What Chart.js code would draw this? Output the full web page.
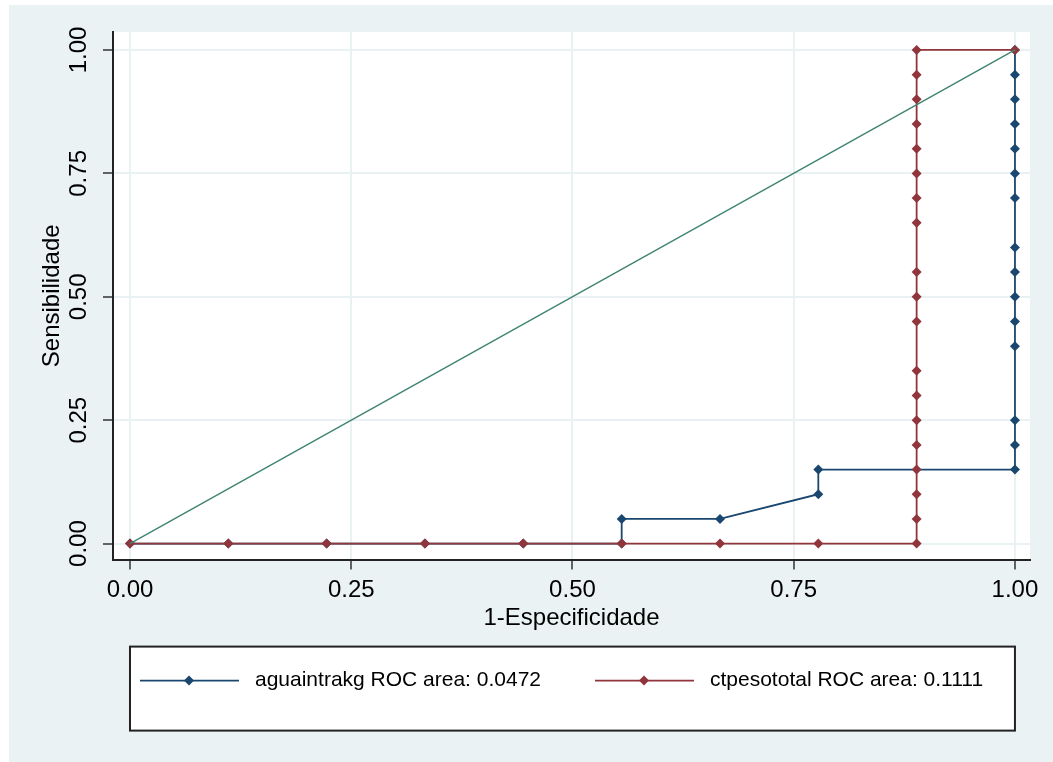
<!DOCTYPE html>
<html>
<head>
<meta charset="utf-8">
<script src="https://cdn.jsdelivr.net/npm/chart.js@4.4.1/dist/chart.umd.min.js"></script>
<style>
  body { margin: 0; background: #fff; }
  #wrap { position: relative; width: 1053px; height: 762px; }
</style>
</head>
<body>
<div id="wrap"><canvas id="rocChart" width="1053" height="762"></canvas></div>
<script>
// ROC points (x = 1-Especificidade, y = Sensibilidade)
var aguaX = [0, 0.1111, 0.2222, 0.3333, 0.4444, 0.5556, 0.5556, 0.6667, 0.7778, 0.7778,
  1, 1, 1, 1, 1, 1, 1, 1, 1, 1, 1, 1, 1, 1, 1];
var aguaY = [0, 0, 0, 0, 0, 0, 0.05, 0.05, 0.10, 0.15,
  0.15, 0.20, 0.25, 0.40, 0.45, 0.50, 0.55, 0.60, 0.70, 0.75, 0.80, 0.85, 0.90, 0.95, 1.00];

var ctpX = [0, 0.1111, 0.2222, 0.3333, 0.4444, 0.5556, 0.6667, 0.7778,
  0.8889, 0.8889, 0.8889, 0.8889, 0.8889, 0.8889, 0.8889, 0.8889, 0.8889, 0.8889,
  0.8889, 0.8889, 0.8889, 0.8889, 0.8889, 0.8889, 0.8889, 0.8889, 0.8889, 1];
var ctpY = [0, 0, 0, 0, 0, 0, 0, 0,
  0, 0.05, 0.10, 0.15, 0.20, 0.25, 0.30, 0.35, 0.45, 0.50,
  0.55, 0.65, 0.70, 0.75, 0.80, 0.85, 0.90, 0.95, 1.00, 1.00];

var refX = [0, 1];
var refY = [0, 1];

var seriesLabels = ["aguaintrakg ROC area: 0.0472", "ctpesototal ROC area: 0.1111"];
var tickValues = [0, 0.25, 0.5, 0.75, 1];

var FONT = "'Liberation Sans', Arial, sans-serif";
var NAVY = "#1a476f";
var MAROON = "#90353b";

function toPoints(xs, ys) {
  return xs.map(function (x, i) { return { x: x, y: ys[i] }; });
}

// gray Stata-like background with white plot region
var backgroundPlugin = {
  id: "stataBackground",
  beforeDraw: function (chart) {
    var ctx = chart.ctx;
    var a = chart.chartArea;
    ctx.save();
    ctx.fillStyle = "#ffffff";
    ctx.fillRect(0, 0, chart.width, chart.height);
    ctx.fillStyle = "#eaf2f3";
    ctx.fillRect(9, 5, chart.width - 9, chart.height - 5);
    ctx.fillStyle = "#ffffff";
    ctx.fillRect(a.left, a.top, a.right - a.left, a.bottom - a.top);
    ctx.restore();
  }
};

function diamond(ctx, x, y, r, color) {
  ctx.beginPath();
  ctx.moveTo(x, y - r);
  ctx.lineTo(x + r, y);
  ctx.lineTo(x, y + r);
  ctx.lineTo(x - r, y);
  ctx.closePath();
  ctx.fillStyle = color;
  ctx.fill();
}

// boxed legend under the axis, like the Stata one
var legendPlugin = {
  id: "boxLegend",
  afterDraw: function (chart) {
    var ctx = chart.ctx;
    var xs = chart.scales.x;
    var left = xs.getPixelForValue(0);
    var right = xs.getPixelForValue(1);
    var top = chart.chartArea.bottom + 87;
    var height = 84;
    ctx.save();
    ctx.fillStyle = "#ffffff";
    ctx.fillRect(left, top, right - left, height);
    ctx.lineWidth = 2;
    ctx.strokeStyle = "#222222";
    ctx.strokeRect(left, top, right - left, height);

    var colors = [NAVY, MAROON];
    var starts = [left + 10, left + 465];
    var cy = top + 34;
    ctx.font = "21px " + FONT;
    ctx.textBaseline = "middle";
    ctx.textAlign = "left";
    for (var i = 0; i < seriesLabels.length; i++) {
      var sx = starts[i];
      ctx.strokeStyle = colors[i];
      ctx.lineWidth = 1.8;
      ctx.beginPath();
      ctx.moveTo(sx, cy);
      ctx.lineTo(sx + 99, cy);
      ctx.stroke();
      diamond(ctx, sx + 49, cy, 5, colors[i]);
      ctx.fillStyle = "#000000";
      ctx.fillText(seriesLabels[i], sx + 115, cy);
    }
    ctx.restore();
  }
};

var ctx = document.getElementById("rocChart").getContext("2d");
var rocChart = new Chart(ctx, {
  type: "scatter",
  data: {
    datasets: [
      {
        label: seriesLabels[0],
        data: toPoints(aguaX, aguaY),
        showLine: true,
        borderColor: NAVY,
        backgroundColor: NAVY,
        borderWidth: 1.8,
        pointStyle: "rectRot",
        pointRadius: 5,
        pointBorderWidth: 0,
        pointHoverRadius: 5,
        tension: 0,
        order: 3
      },
      {
        label: seriesLabels[1],
        data: toPoints(ctpX, ctpY),
        showLine: true,
        borderColor: MAROON,
        backgroundColor: MAROON,
        borderWidth: 1.8,
        pointStyle: "rectRot",
        pointRadius: 5,
        pointBorderWidth: 0,
        pointHoverRadius: 5,
        tension: 0,
        order: 2
      },
      {
        label: "reference",
        data: toPoints(refX, refY),
        showLine: true,
        borderColor: "#3f8472",
        borderWidth: 1.4,
        pointRadius: 0,
        tension: 0,
        order: 1
      }
    ]
  },
  options: {
    responsive: false,
    animation: false,
    devicePixelRatio: 1,
    layout: {
      padding: { left: 38, top: 32, right: 23, bottom: 129 }
    },
    plugins: {
      legend: { display: false },
      tooltip: { enabled: false }
    },
    scales: {
      x: {
        type: "linear",
        min: -0.0192,
        max: 1.017,
        afterBuildTicks: function (scale) {
          scale.ticks = tickValues.map(function (v) { return { value: v }; });
        },
        afterFit: function (scale) { scale.height = 73.4; },
        grid: {
          color: "#eaf1f3",
          lineWidth: 2,
          tickColor: "#333333",
          tickWidth: 1.5,
          tickLength: 10
        },
        border: { color: "#222222", width: 2 },
        ticks: {
          color: "#000000",
          padding: 6,
          maxRotation: 0,
          font: { family: FONT, size: 24 },
          callback: function (value) { return Number(value).toFixed(2); }
        },
        title: {
          display: true,
          text: "1-Especificidade",
          color: "#000000",
          padding: 0,
          font: { family: FONT, size: 24 }
        }
      },
      y: {
        type: "linear",
        min: -0.0324,
        max: 1.0364,
        afterBuildTicks: function (scale) {
          scale.ticks = tickValues.map(function (v) { return { value: v }; });
        },
        afterFit: function (scale) { scale.width = 75; },
        grid: {
          color: "#eaf1f3",
          lineWidth: 2,
          tickColor: "#333333",
          tickWidth: 1.5,
          tickLength: 10
        },
        border: { color: "#222222", width: 2 },
        ticks: {
          color: "#000000",
          padding: 0,
          minRotation: 90,
          maxRotation: 90,
          crossAlign: "center",
          font: { family: FONT, size: 24 },
          callback: function (value) { return Number(value).toFixed(2); }
        },
        title: {
          display: true,
          text: "Sensibilidade",
          color: "#000000",
          padding: 0,
          font: { family: FONT, size: 24 }
        }
      }
    }
  },
  plugins: [backgroundPlugin, legendPlugin]
});
</script>
</body>
</html>
